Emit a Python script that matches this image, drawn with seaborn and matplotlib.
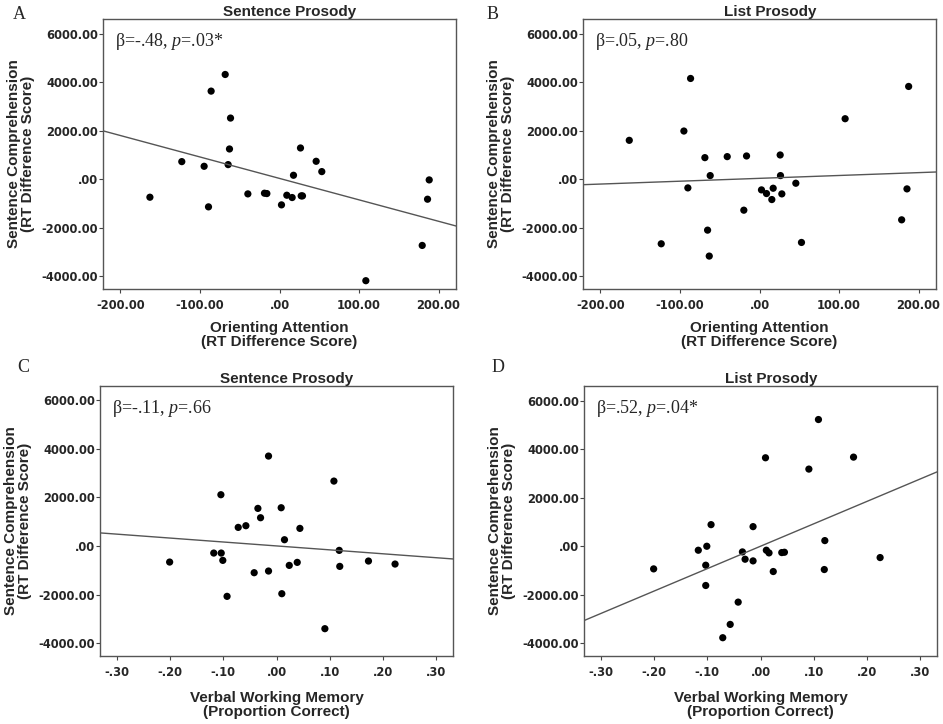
import numpy as np
import pandas as pd
import matplotlib
matplotlib.use('Agg')
import matplotlib.pyplot as plt
from matplotlib.ticker import FuncFormatter
import seaborn as sns

sns.set_theme(style='white')
plt.rcParams['font.family'] = ['DejaVu Sans']
plt.rcParams['mathtext.fontset'] = 'custom'
plt.rcParams['mathtext.rm'] = 'Liberation Serif'
plt.rcParams['mathtext.it'] = 'Liberation Serif:italic'

# datos
# A: Orienting attention vs Sentence comprehension (sentence prosody)
a_x = [-163, -122.9, -94.8, -89.3, -86, -68.3, -61.6, -62.9, -64.6, -39.8, -18.9, -15.9, 2.5,
       9.2, 15.9, 17.6, 26.4, 27.3, 28.9, 46.1, 53.2, 108.6, 179.5, 186.2, 188.3]
a_y = [-740, 726, 534, -1137, 3630, 4315, 2520, 1247, 603, -603, -575, -589, -1055,
       -658, -753, 164, 1288, -685, -685, 740, 315, -4178, -2726, -822, -27]

# B: Orienting attention vs Sentence comprehension (list prosody)
b_x = [-163.8, -123.6, -95.1, -90.1, -86.7, -68.7, -65.3, -63.2, -62, -40.6, -19.7, -16.3, 2.5,
       8.8, 15.5, 17.2, 26, 26.4, 28.1, 45.7, 52.8, 107.7, 178.8, 185.5, 187.6]
b_y = [1603, -2658, 1986, -356, 4151, 890, -2096, -3164, 151, 932, -1274, 959, -438,
       -589, -836, -370, 1000, 151, -603, -164, -2603, 2493, -1671, -397, 3822]

# C: Verbal working memory vs Sentence comprehension (sentence prosody)
c_x = [-0.201, -0.118, -0.1046, -0.104, -0.101, -0.093, -0.072, -0.0576, -0.042, -0.035, -0.030,
       -0.015, -0.015, 0.0088, 0.010, 0.015, 0.024, 0.039, 0.044, 0.091, 0.108, 0.118, 0.119,
       0.173, 0.223]
c_y = [-658, -288, 2110, -288, -589, -2068, 767, 836, -1096, 1548, 1164,
       3699, -1027, 1575, -1959, 260, -795, -671, 726, -3397, 2671, -178, -836,
       -616, -740]

# D: Verbal working memory vs Sentence comprehension (list prosody)
d_x = [-0.201, -0.117, -0.101, -0.103, -0.103, -0.093, -0.071, -0.057, -0.042, -0.034, -0.029,
       -0.014, -0.014, 0.0094, 0.011, 0.016, 0.024, 0.040, 0.045, 0.091, 0.109, 0.120, 0.121,
       0.175, 0.225]
d_y = [-932, -164, 0, -781, -1616, 890, -3767, -3219, -2301, -233, -534,
       -603, 808, 3644, -164, -274, -1041, -260, -247, 3178, 5219, -959, 233,
       3671, -466]

titulos = ['Sentence Prosody', 'List Prosody', 'Sentence Prosody', 'List Prosody']
letras = ['A', 'B', 'C', 'D']
stats = [r'β=-.48, $\it{p}$=.03*', r'β=.05, $\it{p}$=.80',
         r'β=-.11, $\it{p}$=.66', r'β=.52, $\it{p}$=.04*']
xlabel_att = 'Orienting Attention\n(RT Difference Score)'
xlabel_wm = 'Verbal Working Memory\n(Proportion Correct)'
ylabel = 'Sentence Comprehension\n(RT Difference Score)'


def fmt(v, pos):
    s = f'{v:.2f}'
    if s.startswith('0.'):
        s = s[1:]
    elif s.startswith('-0.'):
        s = '-' + s[2:]
    return s


fig = plt.figure(figsize=(9.43, 7.24), dpi=100)
posiciones = [
    [103 / 943, 1 - 289 / 724, 353 / 943, 270 / 724],
    [583 / 943, 1 - 289 / 724, 353 / 943, 270 / 724],
    [100 / 943, 1 - 656 / 724, 353 / 943, 270.5 / 724],
    [584 / 943, 1 - 656 / 724, 353 / 943, 270 / 724],
]
datos = [(a_x, a_y), (b_x, b_y), (c_x, c_y), (d_x, d_y)]
letra_pos = [(13, 6), (487, 6), (17, 359), (492, 359)]

for i in range(4):
    ax = fig.add_axes(posiciones[i])
    x, y = datos[i]
    df = pd.DataFrame({'x': x, 'y': y})
    if i < 2:
        xlim = (-222, 222)
        xticks = [-200, -100, 0, 100, 200]
        xlabel = xlabel_att
        lpad = 7
    else:
        xlim = (-0.332, 0.332)
        xticks = [-0.3, -0.2, -0.1, 0.0, 0.1, 0.2, 0.3]
        xlabel = xlabel_wm
        lpad = 9
    ax.set_xlim(xlim)
    ax.set_ylim(-4520, 6600)
    sns.regplot(data=df, x='x', y='y', ax=ax, ci=None, truncate=False,
                scatter_kws={'s': 27, 'color': 'black', 'edgecolor': 'none', 'alpha': 1},
                line_kws={'color': '#555555', 'lw': 1.0})
    ax.set_xlim(xlim)
    ax.set_ylim(-4520, 6600)
    ax.set_xticks(xticks)
    ax.set_yticks([-4000, -2000, 0, 2000, 4000, 6000])
    ax.xaxis.set_major_formatter(FuncFormatter(fmt))
    ax.yaxis.set_major_formatter(FuncFormatter(fmt))
    ax.tick_params(axis='both', direction='out', length=3, width=0.8, color='#444444',
                   labelsize=8.3, bottom=True, left=True)
    ax.tick_params(axis='x', pad=4)
    ax.tick_params(axis='y', pad=0.5)
    for lab in ax.get_xticklabels() + ax.get_yticklabels():
        lab.set_fontweight('bold')
    for sp in ax.spines.values():
        sp.set_color('#555555')
        sp.set_linewidth(1.0)
    ax.set_xlabel(xlabel, family='Liberation Sans', fontweight='bold', fontsize=11,
                  linespacing=0.95, labelpad=lpad)
    ax.set_ylabel(ylabel, family='Liberation Sans', fontweight='bold', fontsize=11,
                  linespacing=0.95, labelpad=5)
    ax.set_title(titulos[i], family='Liberation Sans', fontweight='bold', fontsize=11,
                 pad=2, x=0.53)
    ax.text(0.035, 0.955, stats[i], transform=ax.transAxes, va='top', ha='left',
            family='Liberation Serif', fontsize=13)
    fig.text(letra_pos[i][0] / 943, 1 - letra_pos[i][1] / 724, letras[i], va='top', ha='left',
             family='Liberation Serif', fontsize=13)

plt.savefig('out.png', dpi=100)
